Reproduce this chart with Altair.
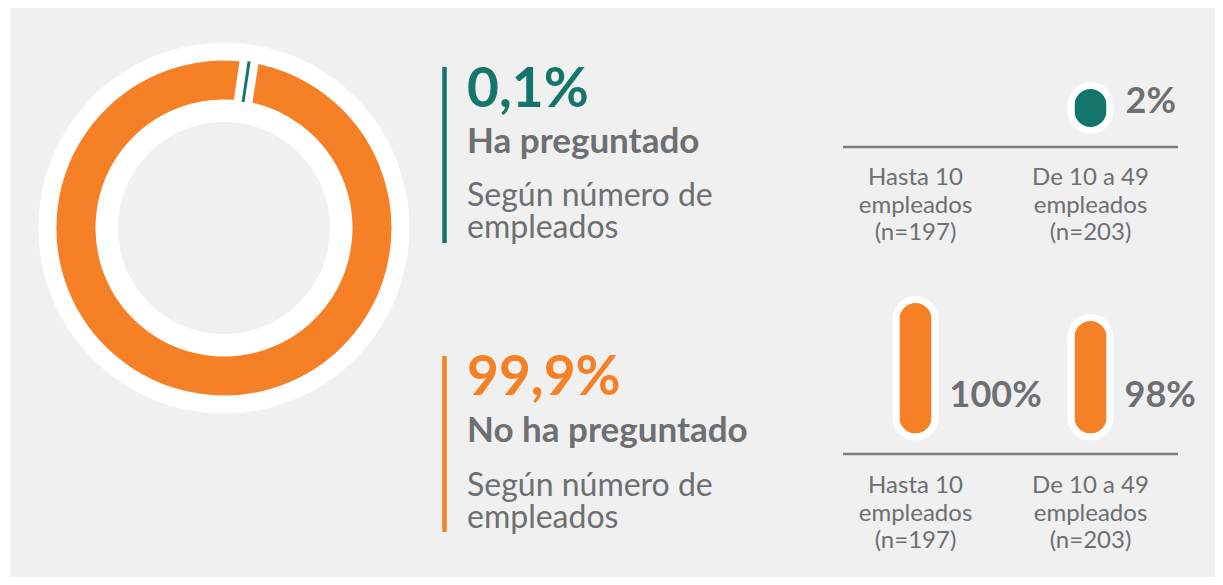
import math
import altair as alt
import pandas as pd

# ---------------- data ----------------
estados = ["Ha preguntado", "No ha preguntado"]
porcentajes = [0.1, 99.9]
subtitulo = "Según número de\nempleados"
categorias = ["Hasta 10\nempleados\n(n=197)", "De 10 a 49\nempleados\n(n=203)"]
ha_preguntado = [0, 2]
no_ha_preguntado = [100, 98]

# ---------------- styles ----------------
TEAL = "#14756b"
ORANGE = "#f58025"
GREY = "#6d6f71"
BG = "#f0f0f0"
LINE = "#7b7d7e"
FONT = "Lato"
W, H = 1207, 569
CX, CY = 216, 220


def fmt_pct(v, dec=1):
    return (f"{v:.{dec}f}".replace(".", ",")) + "%"


dummy = alt.Chart(pd.DataFrame({"d": [0]}))

strip = dummy.mark_rect(color="white").encode(
    x=alt.value(0), x2=alt.value(2), y=alt.value(0), y2=alt.value(H)
)

white_disk = dummy.mark_arc(
    color="white", outerRadius=184, innerRadius=0, theta=0, theta2=2 * math.pi
).encode(x=alt.value(CX), y=alt.value(CY))
grey_disk = dummy.mark_arc(
    color=BG, outerRadius=106, innerRadius=0, theta=0, theta2=2 * math.pi
).encode(x=alt.value(CX), y=alt.value(CY))

donut_df = pd.DataFrame({"estado": estados, "pct": porcentajes, "orden": [0, 1]})
a0 = math.radians(8.4)
theta = alt.Theta("pct:Q", stack=True, scale=alt.Scale(range=[a0, a0 + 2 * math.pi]))
color = alt.Color("estado:N", scale=alt.Scale(domain=estados, range=[TEAL, ORANGE]), legend=None)

ring = alt.Chart(donut_df).mark_arc(
    outerRadius=176.5, innerRadius=119.5, stroke="white", strokeWidth=18, strokeJoin="bevel"
).encode(theta=theta, color=color, order=alt.Order("orden:Q"), x=alt.value(CX), y=alt.value(CY))

teal_slice = alt.Chart(donut_df).mark_arc(
    outerRadius=167.5, innerRadius=128.5, stroke=TEAL, strokeWidth=2
).encode(
    theta=theta, color=color, order=alt.Order("orden:Q"), x=alt.value(CX), y=alt.value(CY),
    opacity=alt.condition(alt.datum.estado == estados[0], alt.value(1), alt.value(0)),
)


def txt(s, x, y, size, col, weight="normal", lh=None):
    kw = dict(align="left", baseline="alphabetic", font=FONT, fontSize=size,
              fontWeight=weight, color=col, lineBreak="\n")
    if lh:
        kw["lineHeight"] = lh
    return alt.Chart(pd.DataFrame({"t": [s]})).mark_text(**kw).encode(
        x=alt.value(x), y=alt.value(y), text="t:N"
    )


acc1 = dummy.mark_rule(color=TEAL, strokeWidth=4.5).encode(
    x=alt.value(436.5), y=alt.value(59), y2=alt.value(235))
acc2 = dummy.mark_rule(color=ORANGE, strokeWidth=4.5).encode(
    x=alt.value(436.5), y=alt.value(348), y2=alt.value(524))

t1 = txt(fmt_pct(porcentajes[0]), 459, 99, 55, TEAL, "bold")
t2 = txt(estados[0], 459, 145, 35, GREY, "bold")
t3 = txt(subtitulo, 459, 198, 32, GREY, lh=32)
t4 = txt(fmt_pct(porcentajes[1]), 459, 387, 55, ORANGE, "bold")
t5 = txt(estados[1], 459, 434, 35, GREY, "bold")
t6 = txt(subtitulo, 459, 488, 32, GREY, lh=32)

# ---------------- right panels ----------------
xenc = alt.X("cat:N", sort=categorias,
             scale=alt.Scale(type="point", domain=categorias, range=[820, 1170], padding=0.5),
             axis=None)

top_df = pd.DataFrame({"cat": categorias, "v": ha_preguntado,
                       "lab": [fmt_pct(v, 0) for v in ha_preguntado]})
bot_df = pd.DataFrame({"cat": categorias, "w": no_ha_preguntado,
                       "lab": [fmt_pct(v, 0) for v in no_ha_preguntado]})

top_bar = alt.Chart(top_df).transform_filter("datum.v > 0").mark_bar(
    width=39, cornerRadius=19.5, color=TEAL, stroke="white", strokeWidth=7
).encode(
    x=xenc,
    y=alt.Y("v:Q", scale=alt.Scale(domain=[0, 2], range=[122.5, 77.5], zero=False, nice=False), axis=None),
    y2=alt.value(122.5),
)
top_lab = alt.Chart(top_df).transform_filter("datum.v > 0").mark_text(
    align="left", baseline="alphabetic", dx=35, font=FONT, fontSize=36, fontWeight="bold", color=GREY
).encode(x=xenc, y=alt.value(105), text="lab:N")

bot_bar = alt.Chart(bot_df).transform_filter("datum.w > 0").mark_bar(
    width=39, cornerRadius=19.5, color=ORANGE, stroke="white", strokeWidth=7
).encode(
    x=xenc,
    y=alt.Y("w:Q", scale=alt.Scale(domain=[0, 98, 100], range=[429, 309.5, 291.5], zero=False, nice=False), axis=None),
    y2=alt.value(429),
)
bot_lab = alt.Chart(bot_df).transform_filter("datum.w > 0").mark_text(
    align="left", baseline="alphabetic", dx=34, font=FONT, fontSize=36, fontWeight="bold", color=GREY
).encode(x=xenc, y=alt.value(399), text="lab:N")

line_top = dummy.mark_rule(color=LINE, strokeWidth=2.5).encode(
    x=alt.value(835), x2=alt.value(1170), y=alt.value(139))
line_bot = dummy.mark_rule(color=LINE, strokeWidth=2.5).encode(
    x=alt.value(835), x2=alt.value(1170), y=alt.value(446))

cat_top = alt.Chart(top_df).mark_text(
    align="center", baseline="alphabetic", font=FONT, fontSize=24, color=GREY,
    lineBreak="\n", lineHeight=27.5
).encode(x=xenc, y=alt.value(177), text="cat:N")
cat_bot = alt.Chart(bot_df).mark_text(
    align="center", baseline="alphabetic", font=FONT, fontSize=24, color=GREY,
    lineBreak="\n", lineHeight=27.5
).encode(x=xenc, y=alt.value(485), text="cat:N")

chart = alt.layer(
    strip, white_disk, grey_disk, ring, teal_slice,
    acc1, acc2, t1, t2, t3, t4, t5, t6,
    line_top, line_bot, top_bar, top_lab, bot_bar, bot_lab, cat_top, cat_bot,
).resolve_scale(y="independent").properties(
    width=W, height=H, autosize="none", padding=0, background=BG
).configure_view(stroke=None)

chart.save("out.html", embed_options={"renderer": "svg", "actions": False})
